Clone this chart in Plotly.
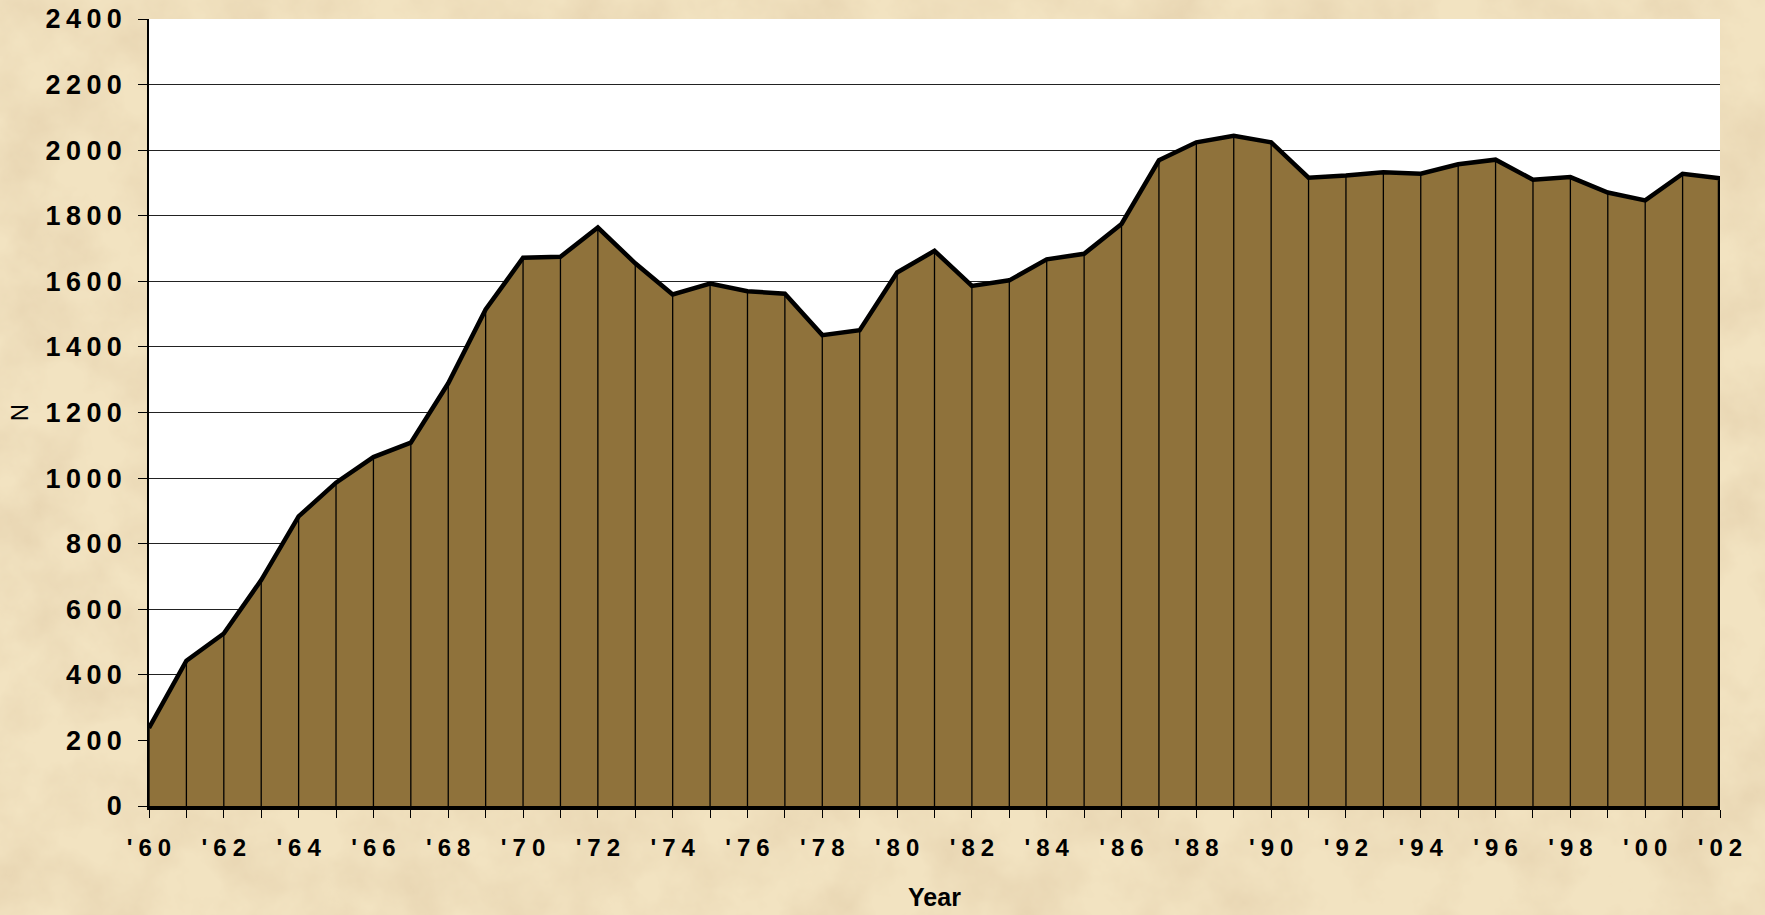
import base64
import plotly.graph_objects as go

# ---- data ----
years = list(range(1960, 2003))
values = [238, 443, 526, 689, 883, 986, 1064, 1108, 1289, 1514,
          1672, 1675, 1764, 1655, 1560, 1593, 1570, 1562, 1436, 1451,
          1627, 1693, 1586, 1603, 1667, 1684, 1775, 1969, 2024, 2044,
          2024, 1916, 1923, 1933, 1928, 1957, 1971, 1910, 1918, 1871,
          1847, 1928, 1914]
x_tick_years = list(range(1960, 2003, 2))
x_tick_labels = ["'60", "'62", "'64", "'66", "'68", "'70", "'72", "'74", "'76",
                 "'78", "'80", "'82", "'84", "'86", "'88", "'90", "'92", "'94",
                 "'96", "'98", "'00", "'02"]
y_tick_values = [0, 200, 400, 600, 800, 1000, 1200, 1400, 1600, 1800, 2000, 2200, 2400]
x_title = "Year"
y_title = "N"

# ---- styling ----
W, H = 1765, 915
ML, MR, MT, MB = 149, 45, 19, 109
FILL = "#8F723B"
PAPER = "#EBD8B0"
FONT = "Liberation Sans, Arial, sans-serif"


def spaced(s, sep):
    return sep.join(list(s))


y_tick_text = [spaced(str(v), "\u2009") for v in y_tick_values]
x_tick_text = [spaced(t, "\u2005") for t in x_tick_labels]

# parchment-like backdrop (SVG turbulence filter, purely decorative)
svg = (
    f"<svg xmlns='http://www.w3.org/2000/svg' width='{W}' height='{H}'>"
    "<filter id='n' x='0' y='0' width='100%' height='100%'>"
    "<feTurbulence type='fractalNoise' baseFrequency='0.014' numOctaves='5' seed='7'/>"
    "<feColorMatrix type='matrix' values='0 0 0 0 0.80  0 0 0 0 0.66  0 0 0 0 0.44  1.8 0 0 0 -0.62'/>"
    "</filter>"
    "<rect width='100%' height='100%' fill='#F2E3C1'/>"
    "<rect width='100%' height='100%' filter='url(#n)'/>"
    "</svg>"
)
svg_uri = "data:image/svg+xml;base64," + base64.b64encode(svg.encode()).decode()

# drop lines at every year (from 0 up to the value)
drop_x, drop_y = [], []
for yr, v in zip(years, values):
    drop_x += [yr, yr, None]
    drop_y += [0, v, None]

fig = go.Figure()

fig.add_trace(go.Scatter(
    x=years + [years[-1]], y=values + [0],
    mode="lines", fill="tozeroy", fillcolor=FILL,
    line=dict(width=0, color=FILL), hoverinfo="skip", showlegend=False,
))
fig.add_trace(go.Scatter(
    x=drop_x, y=drop_y, mode="lines",
    line=dict(color="black", width=1.3), hoverinfo="skip", showlegend=False,
))
fig.add_trace(go.Scatter(
    x=years + [years[-1]], y=values + [0], mode="lines",
    line=dict(color="black", width=4.5), showlegend=False,
    hovertemplate="%{x}: %{y}<extra></extra>",
))

pw, ph = W - ML - MR, H - MT - MB
fig.update_layout(
    width=W, height=H,
    margin=dict(l=ML, r=MR, t=MT, b=MB, autoexpand=False),
    paper_bgcolor=PAPER, plot_bgcolor="white",
    font=dict(family=FONT, color="black"),
    showlegend=False,
    images=[dict(source=svg_uri, xref="paper", yref="paper",
                 x=-ML / pw, y=1 + MT / ph, sizex=W / pw, sizey=H / ph,
                 xanchor="left", yanchor="top", sizing="stretch", layer="below")],
    shapes=[dict(type="rect", xref="paper", yref="paper", x0=0, x1=1, y0=0, y1=1,
                 fillcolor="white", line=dict(width=0), layer="below")],
)

fig.update_xaxes(
    range=[1960, 2002], automargin=False,
    tickvals=x_tick_years, ticktext=x_tick_text,
    ticks="outside", ticklen=8, tickcolor="black", tickwidth=1,
    minor=dict(dtick=1, tick0=1960, ticks="outside", ticklen=8,
               tickcolor="black", tickwidth=1, showgrid=False),
    tickfont=dict(family=FONT, size=24, weight="bold", color="black"),
    ticklabelstandoff=9,
    showgrid=False, zeroline=False,
    showline=True, linecolor="black", linewidth=3.5,
    title=dict(text=x_title, font=dict(family=FONT, size=25, weight="bold", color="black"),
               standoff=30),
)

fig.update_yaxes(
    range=[0, 2400], automargin=False,
    tickvals=y_tick_values, ticktext=y_tick_text,
    ticks="outside", ticklen=9, tickcolor="black", tickwidth=1,
    tickfont=dict(family=FONT, size=27, weight="bold", color="black"),
    ticklabelstandoff=11,
    showgrid=True, gridcolor="#222222", gridwidth=1,
    zeroline=False,
    showline=True, linecolor="black", linewidth=1.5,
    title=dict(text=y_title, font=dict(family=FONT, size=24, color="black"),
               standoff=10),
)

fig.write_html("out.html",
               config={"displayModeBar": False},
               post_script="document.body.style.margin='0';document.body.style.overflow='hidden';")
